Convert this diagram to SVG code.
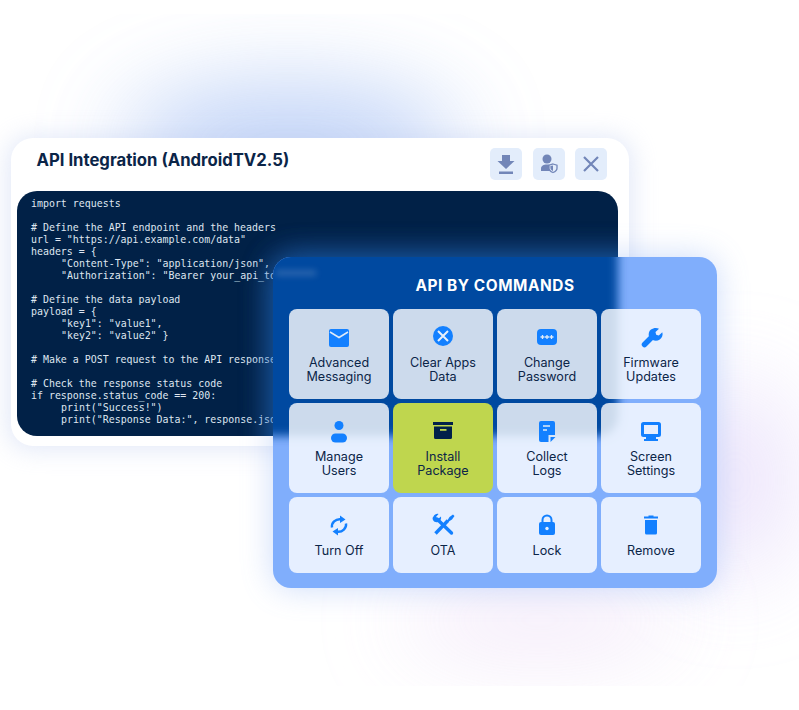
<svg xmlns="http://www.w3.org/2000/svg" width="799" height="710" viewBox="0 0 799 710">
<defs>
<style>
.code{font-family:"DejaVu Sans Mono","Liberation Mono",monospace;font-size:9.930px;fill:#dfe6f0;white-space:pre}
.lbl{font-family:"Inter","Liberation Sans",sans-serif;font-size:12.600px;font-weight:400;fill:#0b2548;text-anchor:middle}
.tile{fill:#fff;fill-opacity:.8}
.ic{fill:#1380ff}
.hb{fill:#e3edfb}
.hi{fill:#7286b8}
</style>
<filter id="b60" x="-60%" y="-60%" width="220%" height="220%"><feGaussianBlur stdDeviation="45"/></filter>
<filter id="b20" x="-20%" y="-20%" width="140%" height="140%"><feGaussianBlur stdDeviation="16"/></filter>
<filter id="b12" x="-20%" y="-20%" width="140%" height="140%"><feGaussianBlur stdDeviation="12"/></filter>
<filter id="b5" x="-10%" y="-10%" width="120%" height="120%"><feGaussianBlur stdDeviation="5"/></filter>
<filter id="b3" x="-30%" y="-100%" width="160%" height="300%"><feGaussianBlur stdDeviation="3"/></filter>
<clipPath id="panelClip"><rect x="273" y="257" width="444" height="331" rx="18"/></clipPath>
<clipPath id="codeClip"><rect x="17" y="191" width="601" height="245" rx="20"/></clipPath>
</defs>

<g id="background">
<ellipse cx="290" cy="142" rx="170" ry="58" fill="#a9c2f4" opacity=".72" filter="url(#b60)"/>
<ellipse cx="735" cy="480" rx="60" ry="100" fill="#e6dcfa" opacity=".75" filter="url(#b60)"/>
<ellipse cx="540" cy="620" rx="140" ry="30" fill="#ecdcf6" opacity=".75" filter="url(#b60)"/>
</g>

<g id="api-card">
<rect x="7" y="136" width="626" height="314" rx="24" fill="#b9c8ee" opacity=".4" filter="url(#b12)"/>
<rect x="11" y="138" width="618" height="308" rx="22" fill="#fff"/>
<text x="36.500" y="166" font-family="Inter,sans-serif" font-size="16.700" font-weight="700" fill="#0b2548">API Integration (AndroidTV2.5)</text>
<g id="btn-download">
<rect class="hb" x="490" y="148" width="32" height="32" rx="5"/>
<path class="hi" d="M502 155h8v6h4.500l-8.500 8-8.500-8h4.500zM499 171.500h14v2.500h-14z"/>
</g>
<g id="btn-user">
<rect class="hb" x="533" y="148" width="32" height="32" rx="5"/>
<circle class="hi" cx="547" cy="159" r="4.500"/>
<path class="hi" d="M541 171v-2.500c0-2.500 2.500-4 6-4 1.800 0 3 .2 4 .7v5.800z"/>
<path d="M553 164l4 1.200v3c0 2-2 3.500-4 4.300-2-.8-4-2.300-4-4.300v-3z" fill="#e3edfb" stroke="#7286b8" stroke-width="1.300"/>
<path class="hi" d="M553 165.500v5.500c-1.300-.6-2.600-1.600-2.600-3v-1.900z"/>
</g>
<g id="btn-close">
<rect class="hb" x="575" y="148" width="32" height="32" rx="5"/>
<path d="M584 157l14 14M598 157l-14 14" stroke="#7286b8" stroke-width="2.200" fill="none"/>
</g>
<rect id="code-bg" x="17" y="191" width="601" height="245" rx="20" fill="#012147"/>
<g id="code">
<text class="code" x="31" y="206.500">import requests</text>
<text class="code" x="31" y="230.500"># Define the API endpoint and the headers</text>
<text class="code" x="31" y="242.500">url = "https://api.example.com/data"</text>
<text class="code" x="31" y="254.500">headers = {</text>
<text class="code" x="61" y="266.500">"Content-Type": "application/json",</text>
<text class="code" x="61" y="278.500">"Authorization": "Bearer your_api_token"</text>
<text class="code" x="31" y="302.500"># Define the data payload</text>
<text class="code" x="31" y="314.500">payload = {</text>
<text class="code" x="61" y="326.500">"key1": "value1",</text>
<text class="code" x="61" y="338.500">"key2": "value2" }</text>
<text class="code" x="31" y="362.500"># Make a POST request to the API response</text>
<text class="code" x="31" y="386.500"># Check the response status code</text>
<text class="code" x="31" y="398.500">if response.status_code == 200:</text>
<text class="code" x="61" y="410.500">print("Success!")</text>
<text class="code" x="61" y="422.500">print("Response Data:", response.json</text>
</g>
</g>

<g id="panel-shadow">
<rect x="273" y="257" width="444" height="331" rx="18" fill="#7fa6f2" opacity=".4" filter="url(#b20)"/>
<g clip-path="url(#codeClip)"><rect x="273" y="257" width="444" height="331" rx="18" fill="#0a56b4" opacity=".7" filter="url(#b20)"/></g>
</g>

<g id="panel">
<rect x="273" y="257" width="444" height="331" rx="18" fill="#80aefc"/>
<g clip-path="url(#panelClip)">
<rect x="17" y="191" width="601" height="245" rx="20" fill="#0449a0" filter="url(#b5)"/>
<rect x="276" y="270" width="40" height="6" fill="#8fa9cf" opacity=".3" filter="url(#b3)"/>
</g>
<text x="495" y="291" font-family="Inter,sans-serif" font-size="15.400" font-weight="700" fill="#fff" text-anchor="middle" letter-spacing=".55">API BY COMMANDS</text>
</g>

<g id="connectors"/>

<g id="tile-advanced-messaging">
<rect class="tile" x="289" y="309" width="100" height="90" rx="8"/>
<path class="ic" d="M331 329h16a2 2 0 0 1 2 2v14a2 2 0 0 1-2 2h-16a2 2 0 0 1-2-2v-14a2 2 0 0 1 2-2z"/>
<path d="M330 332l9 5.500 9-5.500" stroke="#dfeaf8" stroke-width="1.500" fill="none"/>
<text class="lbl" x="339" y="367">Advanced</text><text class="lbl" x="339" y="381">Messaging</text>
</g>
<g id="tile-clear-apps-data">
<rect class="tile" x="393" y="309" width="100" height="90" rx="8"/>
<circle class="ic" cx="443" cy="336" r="10"/>
<path d="M438 331l10 10M448 331l-10 10" stroke="#e8f0fb" stroke-width="2" fill="none"/>
<text class="lbl" x="443" y="367">Clear Apps</text><text class="lbl" x="443" y="381">Data</text>
</g>
<g id="tile-change-password">
<rect class="tile" x="497" y="309" width="100" height="90" rx="8"/>
<rect class="ic" x="537" y="329" width="20" height="16" rx="4"/>
<path d="M540.500 337h4M542.500 335v4M545 337h4M547 335v4M549.500 337h4M551.500 335v4" stroke="#dfeaf8" stroke-width="1.300" fill="none"/>
<text class="lbl" x="547" y="367">Change</text><text class="lbl" x="547" y="381">Password</text>
</g>
<g id="tile-firmware-updates">
<rect class="tile" x="601" y="309" width="100" height="90" rx="8"/>
<path d="M644.500 344.500l9-9" stroke="#1380ff" stroke-width="5.500" stroke-linecap="round" fill="none"/>
<path class="ic" d="M651 329.500c2.500-2 6-2 8-.8l-3.500 3.300 .5 2.800 2.800 .8 3.500-3.300c.9 2.800-.2 5.500-2.500 7.300-2.300 1.500-5 1.600-7 .4l-4-4c-.3-2.500 0-4.900 2.200-6.500z"/>
<text class="lbl" x="651" y="367">Firmware</text><text class="lbl" x="651" y="381">Updates</text>
</g>
<g id="tile-manage-users">
<rect class="tile" x="289" y="403" width="100" height="90" rx="8"/>
<circle class="ic" cx="339" cy="425.500" r="4.500"/>
<rect class="ic" x="331" y="433.500" width="16" height="9" rx="4.500"/>
<text class="lbl" x="339" y="461">Manage</text><text class="lbl" x="339" y="475">Users</text>
</g>
<g id="tile-install-package">
<rect x="393" y="403" width="100" height="90" rx="8" fill="#bfd64e"/>
<rect x="433" y="422" width="20" height="3" fill="#01214a"/>
<path d="M434 426.500h18v11a1.500 1.500 0 0 1-1.500 1.500h-15a1.500 1.500 0 0 1-1.500-1.500z" fill="#01214a"/>
<rect x="440" y="429" width="6.500" height="1.800" fill="#bfd64e"/>
<text class="lbl" x="443" y="461">Install</text><text class="lbl" x="443" y="475">Package</text>
</g>
<g id="tile-collect-logs">
<rect class="tile" x="497" y="403" width="100" height="90" rx="8"/>
<path class="ic" d="M541 421h12a2 2 0 0 1 2 2v12h-6.500v7h-7.500a2 2 0 0 1-2-2v-17a2 2 0 0 1 2-2z"/>
<path class="ic" d="M550.500 442v-5h5z"/>
<path d="M543 426h7M543 430h4" stroke="#dfeaf8" stroke-width="1.400" fill="none"/>
<text class="lbl" x="547" y="461">Collect</text><text class="lbl" x="547" y="475">Logs</text>
</g>
<g id="tile-screen-settings">
<rect class="tile" x="601" y="403" width="100" height="90" rx="8"/>
<rect x="642.500" y="423.500" width="17" height="12" rx="1" fill="none" stroke="#1380ff" stroke-width="3"/>
<path class="ic" d="M646 437h10v2h2v2h-14v-2h2z"/>
<text class="lbl" x="651" y="461">Screen</text><text class="lbl" x="651" y="475">Settings</text>
</g>
<g id="tile-turn-off">
<rect class="tile" x="289" y="497" width="100" height="76" rx="8"/>
<path d="M332 527.500c-.8-4.500 3.500-9 9-8.200M346 523.500c.8 4.500-3.500 9-9 8.200" stroke="#1380ff" stroke-width="2.400" fill="none"/>
<path class="ic" d="M340 515.500l5.500 4-5.500 3.500zM338 535.500l-5.500-4 5.500-3.500z"/>
<text class="lbl" x="339" y="555">Turn Off</text>
</g>
<g id="tile-ota">
<rect class="tile" x="393" y="497" width="100" height="76" rx="8"/>
<path d="M437 519l14.500 14" stroke="#1380ff" stroke-width="3.400" stroke-linecap="round" fill="none"/>
<path d="M435.500 533.500l12.500-13" stroke="#1380ff" stroke-width="3.400" fill="none"/>
<path class="ic" d="M433.500 516.500c1-2 3-3 5-2.500l-2.500 3 2 2 3-2.500c.6 2.300-.6 4.500-3 5.500-2 .7-4-.2-5-2-.6-1.300-.6-2.500 .5-3.500zM447 521l2.500-4 3.500-2.500 1.500 1.500-2.500 3.500-4 2.500z"/>
<text class="lbl" x="443" y="555">OTA</text>
</g>
<g id="tile-lock">
<rect class="tile" x="497" y="497" width="100" height="76" rx="8"/>
<rect class="ic" x="539" y="522" width="16" height="13" rx="2"/>
<path d="M542.500 523v-3a4.500 4.500 0 0 1 9 0v3" stroke="#1380ff" stroke-width="2" fill="none"/>
<circle cx="547" cy="528.500" r="1.700" fill="#e6efff"/>
<text class="lbl" x="547" y="555">Lock</text>
</g>
<g id="tile-remove">
<rect class="tile" x="601" y="497" width="100" height="76" rx="8"/>
<path class="ic" d="M644 516.500h14v2h-14zM648.500 515.500h5v1.500h-5zM645 520h12v13a1.500 1.500 0 0 1-1.500 1.500h-9a1.500 1.500 0 0 1-1.500-1.500z"/>
<text class="lbl" x="651" y="555">Remove</text>
</g>
</svg>
